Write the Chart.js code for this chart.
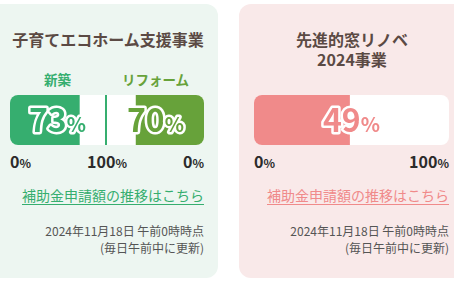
<!DOCTYPE html>
<html lang="ja">
<head>
<meta charset="utf-8">
<script src="https://cdn.jsdelivr.net/npm/chart.js@4"></script>
<style>
  body { margin: 0; background: #fff; font-family: "Noto Sans CJK JP", "Noto Sans", sans-serif; }
  #wrap { position: relative; width: 454px; height: 286px; overflow: hidden; }
  .panel { position: absolute; top: 4px; height: 274px; border-radius: 12px; }
  .t { position: absolute; white-space: nowrap; line-height: 1; }
  .title { font-size: 16px; font-weight: bold; color: #5b4a44; text-align: center; }
  .sub { font-size: 13.5px; font-weight: bold; text-align: center; }
  .tick { font-size: 16px; font-weight: bold; color: #2b2b2b; }
  .tick small { font-size: 12px; }
  .link { font-size: 14px; text-decoration: underline; text-underline-offset: 3px; text-align: right; }
  .date { font-size: 12px; color: #555; text-align: right; }
  .bar { position: absolute; top: 95px; height: 50px; overflow: hidden; background: #fff; }
  .bar canvas { display: block; }
</style>
</head>
<body>
<div id="wrap">
  <div class="panel" style="left:-12px; width:230px; background:#edf6f1;"></div>
  <div class="panel" style="left:239px; width:230px; background:#f9e9e9;"></div>

  <div class="t title" style="left:0; width:216px; top:31px;">子育てエコホーム支援事業</div>
  <div class="t sub" id="lab0" style="left:10px; width:95px; top:73px; color:#36ae6f;"></div>
  <div class="t sub" id="lab1" style="left:107px; width:97px; top:73px; color:#67a23a;"></div>

  <div class="bar" style="left:10px; width:95px; border-radius:8px 0 0 8px;"><canvas id="c0" width="95" height="50"></canvas></div>
  <div style="position:absolute; left:105px; top:95px; width:2px; height:50px; background:#36ae6f;"></div>
  <div class="bar" style="left:107px; width:97px; border-radius:0 8px 8px 0;"><canvas id="c1" width="97" height="50"></canvas></div>

  <div class="t tick" style="left:10px; top:153px;">0<small>%</small></div>
  <div class="t tick" style="left:57px; width:100px; text-align:center; top:153px;">100<small>%</small></div>
  <div class="t tick" style="left:104px; width:100px; text-align:right; top:153px;">0<small>%</small></div>

  <div class="t link" style="left:4px; width:200px; top:188px; color:#36ae6f;">補助金申請額の推移はこちら</div>
  <div class="t date" style="left:4px; width:200px; top:225px;">2024年11月18日 午前0時時点</div>
  <div class="t date" style="left:4px; width:200px; top:242px;">(毎日午前中に更新)</div>

  <div class="t title" style="left:252px; width:200px; top:31px;">先進的窓リノベ</div>
  <div class="t title" style="left:252px; width:200px; top:51px;">2024事業</div>

  <div class="bar" style="left:254px; width:195px; border-radius:8px;"><canvas id="c2" width="195" height="50"></canvas></div>

  <div class="t tick" style="left:254px; top:153px;">0<small>%</small></div>
  <div class="t tick" style="left:349px; width:100px; text-align:right; top:153px;">100<small>%</small></div>

  <div class="t link" style="left:249px; width:200px; top:188px; color:#f08a8a;">補助金申請額の推移はこちら</div>
  <div class="t date" style="left:249px; width:200px; top:225px;">2024年11月18日 午前0時時点</div>
  <div class="t date" style="left:249px; width:200px; top:242px;">(毎日午前中に更新)</div>
</div>
<script>
const categories = ["新築", "リフォーム", "先進的窓リノベ2024事業"];
const values = [73, 70, 49];
const barColors = ["#36ae6f", "#67a23a", "#f08a8a"];
const reversed = [false, true, false];
const axisMin = 0;
const axisMax = 100;

document.getElementById("lab0").textContent = categories[0];
document.getElementById("lab1").textContent = categories[1];

// big percent number drawn over the bar, coloured fill with a white outline
const pctLabel = {
  id: "pctLabel",
  afterDatasetsDraw(chart) {
    const ctx = chart.ctx;
    const area = chart.chartArea;
    const ds = chart.data.datasets[0];
    const num = String(ds.data[0]);
    ctx.save();
    ctx.font = "bold 32px 'Noto Sans CJK JP', sans-serif";
    const w1 = ctx.measureText(num).width;
    ctx.font = "bold 20px 'Noto Sans CJK JP', sans-serif";
    const w2 = ctx.measureText("%").width;
    let x = (area.left + area.right) / 2 - (w1 + w2) / 2;
    const y = 37;
    ctx.lineJoin = "round";
    ctx.lineWidth = 5;
    ctx.strokeStyle = "#fff";
    ctx.fillStyle = ds.backgroundColor;
    ctx.font = "bold 32px 'Noto Sans CJK JP', sans-serif";
    ctx.strokeText(num, x, y);
    ctx.fillText(num, x, y);
    ctx.font = "bold 20px 'Noto Sans CJK JP', sans-serif";
    ctx.strokeText("%", x + w1, y);
    ctx.fillText("%", x + w1, y);
    ctx.restore();
  }
};

function makeBar(id, i) {
  new Chart(id, {
    type: "bar",
    data: {
      labels: [categories[i]],
      datasets: [{
        data: [values[i]],
        backgroundColor: barColors[i],
        barPercentage: 1,
        categoryPercentage: 1
      }]
    },
    options: {
      indexAxis: "y",
      responsive: false,
      animation: false,
      layout: { padding: 0 },
      plugins: { legend: { display: false }, tooltip: { enabled: false } },
      scales: {
        x: { display: false, min: axisMin, max: axisMax, reverse: reversed[i] },
        y: { display: false }
      }
    },
    plugins: [pctLabel]
  });
}

makeBar("c0", 0);
makeBar("c1", 1);
makeBar("c2", 2);
</script>
</body>
</html>
